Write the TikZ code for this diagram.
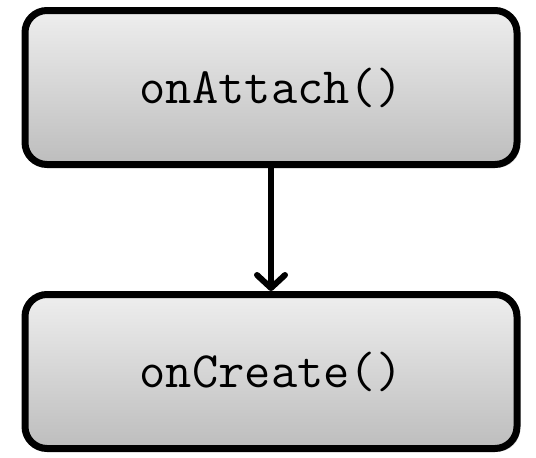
\documentclass[tikz,border=0pt]{standalone}
\usepackage{fontspec}
\usepackage{tikz}
\usetikzlibrary{arrows.meta, positioning, shadows}
\definecolor{boxtop}{HTML}{EEEEEE}
\definecolor{boxbottom}{HTML}{BDBDBD}
\begin{document}
\begin{tikzpicture}[
        x=1pt, y=1pt,
        node distance=123pt,
        callbox/.style={draw, line width=7pt, rounded corners=22pt,
            top color=boxtop, bottom color=boxbottom,
            drop shadow={shadow xshift=3pt, shadow yshift=-3pt, opacity=0.35},
            minimum width=492pt, minimum height=154pt, align=center,
            font=\fontsize{51}{60}\selectfont\ttfamily},
        flow/.style={-{Straight Barb[length=13pt, width=28pt, line cap=round, line join=round]}, line width=6pt}
        ]
        \useasboundingbox (0,0) rectangle (536,-458);

        % Nodes
        \node[callbox] (attach) at (271,-87.5) {onAttach()};
        \node[callbox, below=of attach] (create) {onCreate()};

        % Arrows
        \draw[flow] (attach) -- (create);

        \end{tikzpicture}
\end{document}
